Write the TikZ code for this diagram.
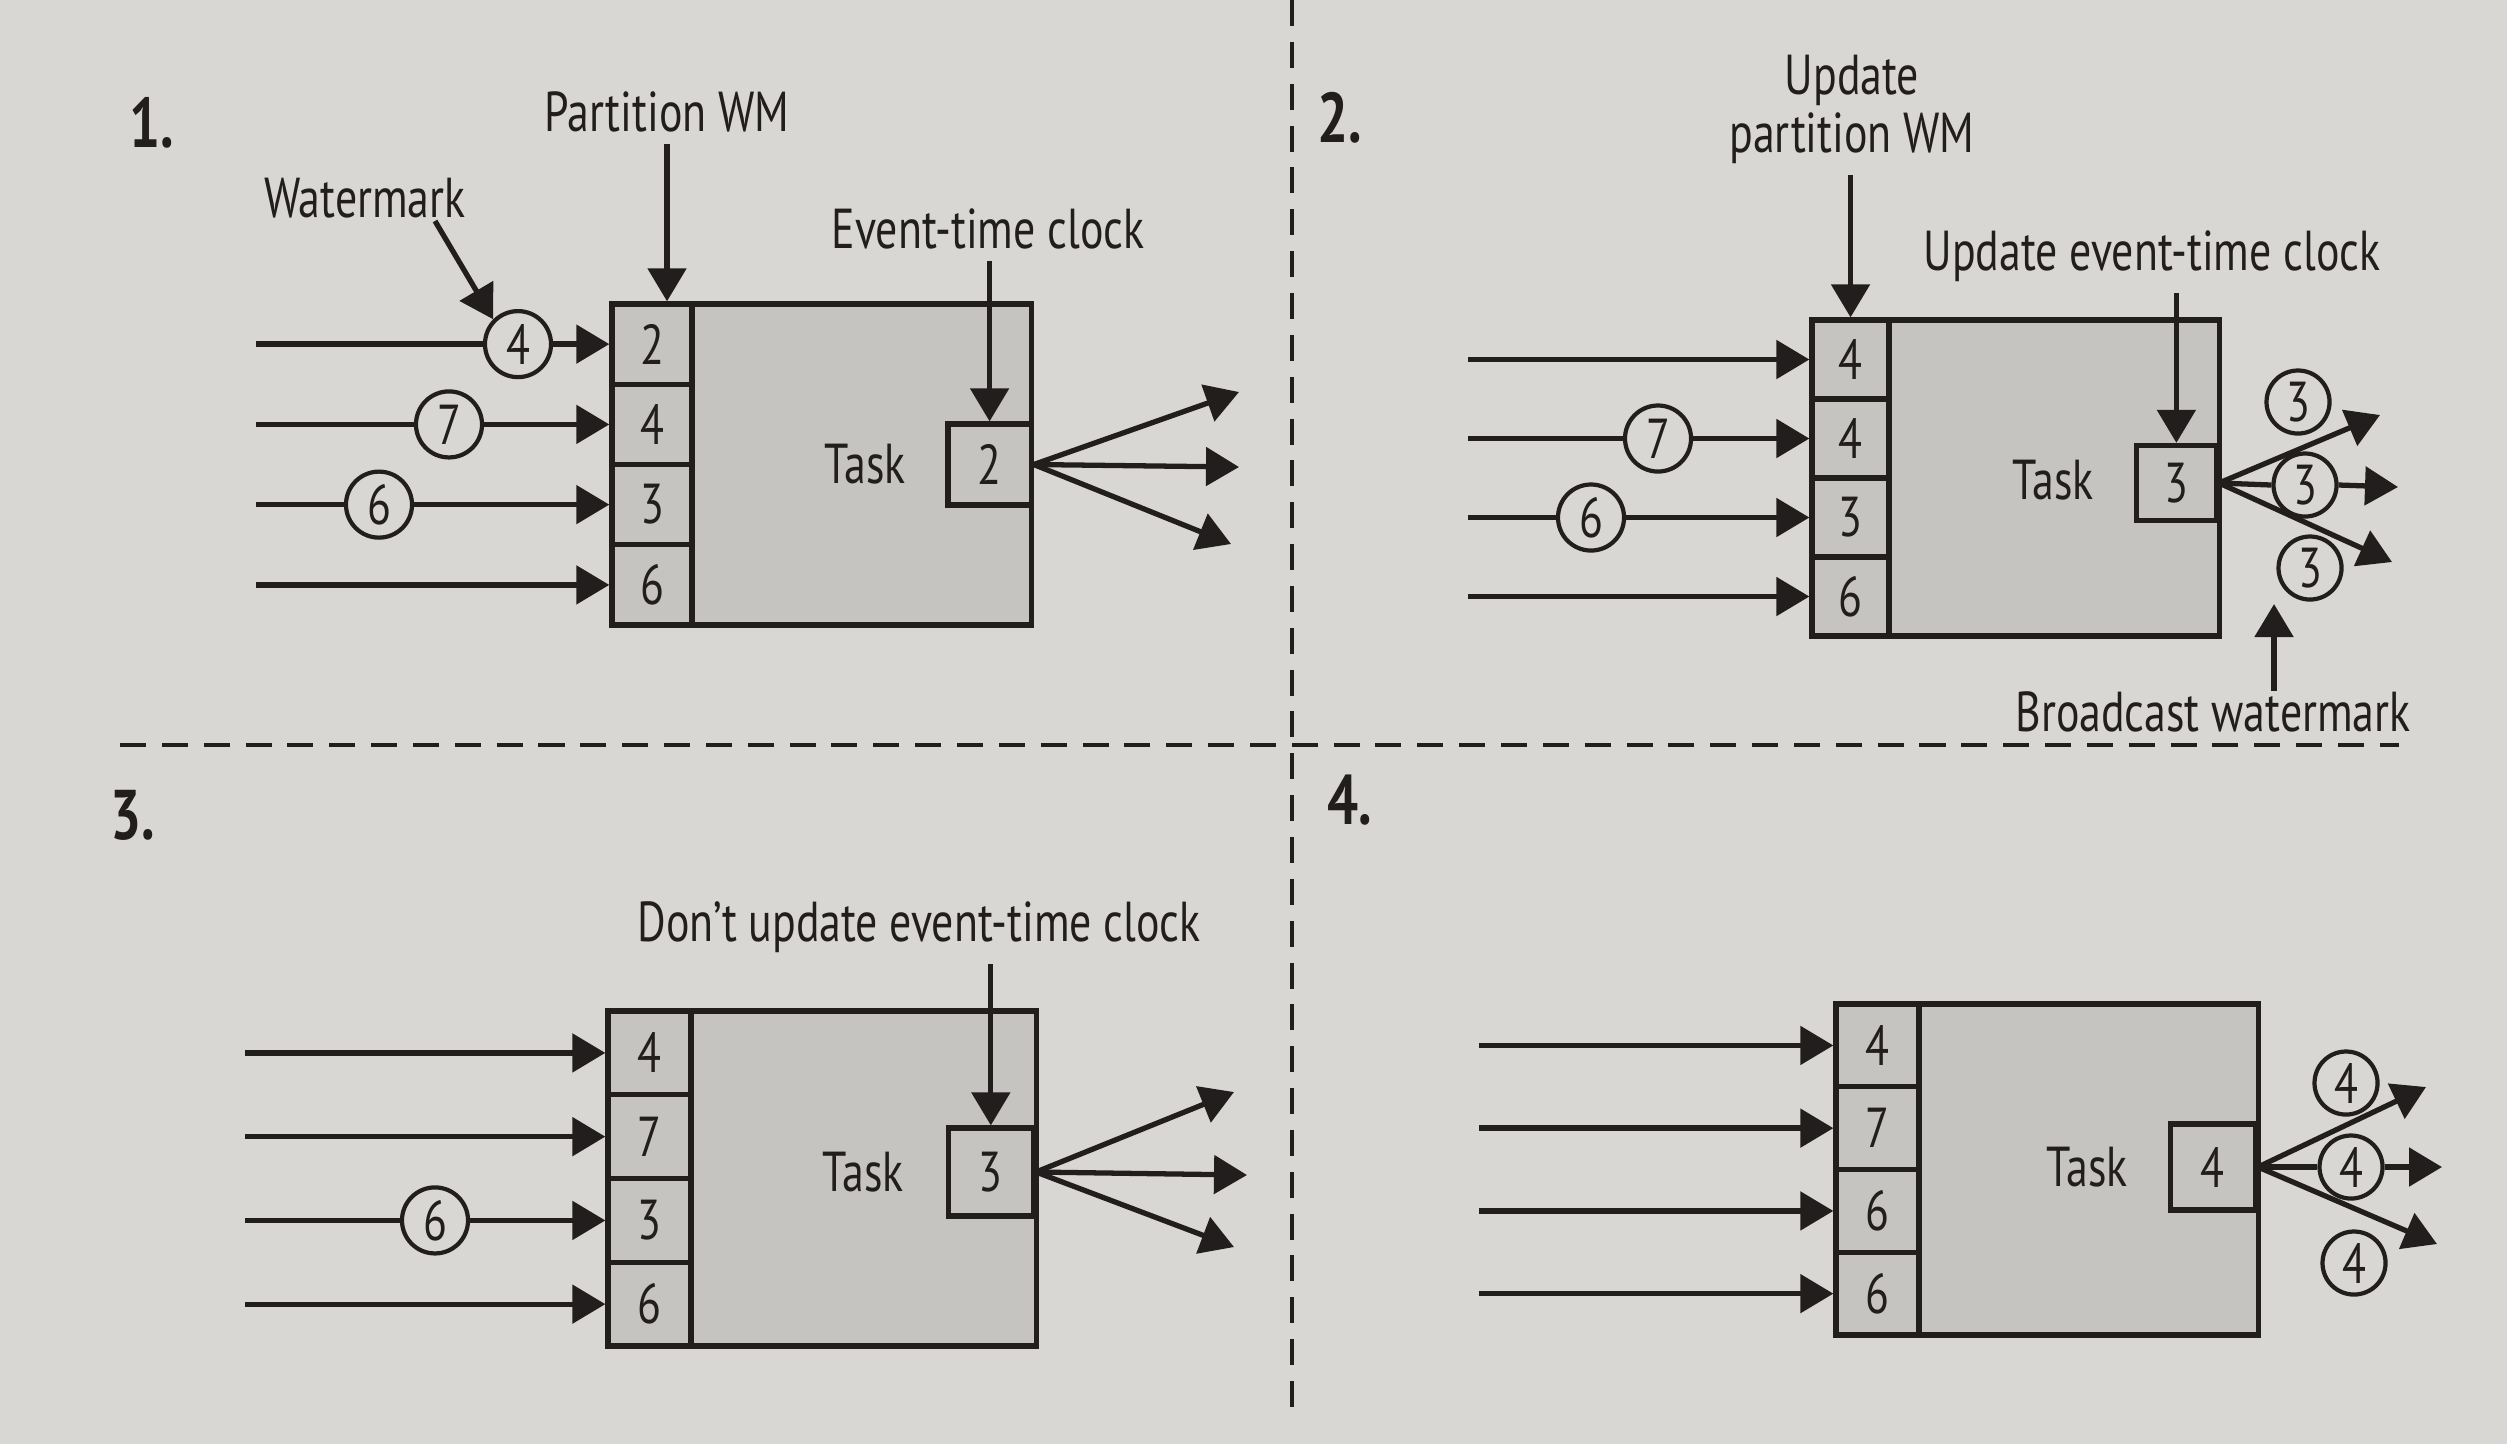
\documentclass[tikz,border=0pt]{standalone}
\usepackage{fontspec}
\setmainfont{PT Sans}[FakeStretch=0.78]
\usetikzlibrary{arrows.meta}
\definecolor{bg}{HTML}{D9D7D3}
\definecolor{boxfill}{HTML}{C6C4C0}
\definecolor{ink}{HTML}{221E1E}
\tikzset{
 lbl/.style={font=\fontsize{16}{16.5}\selectfont, text=ink, inner sep=0pt, align=center},
 num/.style={font=\fontsize{20}{24}\selectfont\bfseries, text=ink, inner sep=0pt},
 taskbox/.style={draw=ink, fill=boxfill, line width=1.5pt, inner sep=0pt, rectangle},
 cellbox/.style={draw=ink, fill=boxfill, line width=1.5pt, inner sep=0pt, rectangle, font=\fontsize{16}{19}\selectfont, text=ink},
 wm/.style={circle, draw=ink, line width=1.2pt, minimum size=0.66cm, inner sep=0pt, font=\fontsize{16}{19}\selectfont, text=ink},
 arr/.style={draw=ink, line width=1.5pt, -{Triangle[length=0.33cm,width=0.38cm]}},
 ln/.style={draw=ink, line width=1.5pt},
 divider/.style={draw=ink, line width=1.4pt, dash pattern=on 7.4pt off 4.5pt},
}
\begin{document}
\begin{tikzpicture}[x=0.01cm,y=-0.01cm]
\fill[bg] (0,0) rectangle (2507,1444);
\useasboundingbox (0,0) rectangle (2507,1444);

% dividers
\coordinate (vtop) at (1292,0); \coordinate (vbot) at (1292,1415);
\coordinate (hl) at (120,745); \coordinate (hr) at (2399,745);
\draw[divider] (vtop) -- (vbot);
\draw[divider] (hl) -- (hr);

% ---------------- Panel 1 ----------------
\node[num] (n1) at (152,123) {1.};
\node[taskbox, minimum width=4.19cm, minimum height=3.21cm] (t1) at (821.5,464.5) {};
\node[cellbox, minimum width=0.8cm, minimum height=0.8025cm] (c11) at (652,344.1) {2};
\node[cellbox, minimum width=0.8cm, minimum height=0.8025cm] (c12) at (652,424.4) {4};
\node[cellbox, minimum width=0.8cm, minimum height=0.8025cm] (c13) at (652,504.6) {3};
\node[cellbox, minimum width=0.8cm, minimum height=0.8025cm] (c14) at (652,584.9) {6};
\node[cellbox, minimum width=0.83cm, minimum height=0.81cm, anchor=east] (k1) at (t1.east) {2};
\node[lbl] (task1) at (865,464) {Task};
\node[lbl] (pwm1) at (667,112) {Partition WM};
\node[lbl] (wml1) at (365,198) {Watermark};
\node[lbl] (etc1) at (988,229) {Event-time clock};
\draw[arr, shorten <=3pt] (pwm1.south) -- (pwm1.south |- c11.north);
\coordinate (wms1) at (435,221);
\node[wm] (w11) at (518,344.1) {4};
\node[wm] (w12) at (449,424.4) {7};
\node[wm] (w13) at (379,504.6) {6};
\draw[arr] (wms1) -- (w11.north west);
\draw[arr, shorten <=3pt] (etc1.south -| k1.north) -- (k1.north);
\coordinate (s11) at (256,344.1);
\coordinate (s12) at (256,424.4);
\coordinate (s13) at (256,504.6);
\coordinate (s14) at (256,584.9);
\draw[ln] (s11) -- (w11.west); \draw[arr] (w11.east) -- (c11.west);
\draw[ln] (s12) -- (w12.west); \draw[arr] (w12.east) -- (c12.west);
\draw[ln] (s13) -- (w13.west); \draw[arr] (w13.east) -- (c13.west);
\draw[arr] (s14) -- (c14.west);
\coordinate (q11) at (1239,392);
\coordinate (q12) at (1239,467);
\coordinate (q13) at (1231,544);
\draw[arr] (k1.east) -- (q11);
\draw[arr] (k1.east) -- (q12);
\draw[arr] (k1.east) -- (q13);

% ---------------- Panel 2 ----------------
\node[num] (n2) at (1340,118) {2.};
\node[taskbox, minimum width=4.07cm, minimum height=3.16cm] (t2) at (2015.5,478) {};
\node[cellbox, minimum width=0.77cm, minimum height=0.79cm] (c21) at (1850.5,359.5) {4};
\node[cellbox, minimum width=0.77cm, minimum height=0.79cm] (c22) at (1850.5,438.5) {4};
\node[cellbox, minimum width=0.77cm, minimum height=0.79cm] (c23) at (1850.5,517.5) {3};
\node[cellbox, minimum width=0.77cm, minimum height=0.79cm] (c24) at (1850.5,596.5) {6};
\node[cellbox, minimum width=0.8cm, minimum height=0.75cm, anchor=east] (k2) at (2219,483) {3};
\node[lbl] (task2) at (2053,480) {Task};
\node[lbl] (pwm2) at (1852,109) {Update\\partition WM};
\node[lbl] (etc2) at (2152,256) {Update event-time clock};
\draw[arr, shorten <=3pt] (pwm2.south -| c21.north) -- (c21.north);
\draw[arr, shorten <=3pt] (etc2.south -| k2.north) -- (k2.north);
\node[wm] (w22) at (1658,438.5) {7};
\node[wm] (w23) at (1591,517.5) {6};
\coordinate (s21) at (1468,359.5);
\coordinate (s22) at (1468,438.5);
\coordinate (s23) at (1468,517.5);
\coordinate (s24) at (1468,596.5);
\draw[arr] (s21) -- (c21.west);
\draw[ln] (s22) -- (w22.west); \draw[arr] (w22.east) -- (c22.west);
\draw[ln] (s23) -- (w23.west); \draw[arr] (w23.east) -- (c23.west);
\draw[arr] (s24) -- (c24.west);
\node[wm, minimum size=0.63cm] (b21) at (2298,402) {3};
\node[wm, minimum size=0.63cm] (b22) at (2305,485) {3};
\node[wm, minimum size=0.63cm] (b23) at (2310,568) {3};
\coordinate (q21) at (2380,415);
\coordinate (q22) at (2398,487);
\coordinate (q23) at (2392,562);
\draw[arr] (k2.east) -- (q21);
\draw[ln] (k2.east) -- (b22.west); \draw[arr] (b22.east) -- (q22);
\draw[arr] (k2.east) -- (q23);
\node[lbl] (bw) at (2213,712) {Broadcast watermark};
\coordinate (bws) at (2274,691);
\coordinate (bwe) at (2274,604);
\draw[arr] (bws) -- (bwe);

% ---------------- Panel 3 ----------------
\node[num] (n3) at (133,815) {3.};
\node[taskbox, minimum width=4.28cm, minimum height=3.35cm] (t3) at (822,1178.5) {};
\node[cellbox, minimum width=0.83cm, minimum height=0.8375cm] (c31) at (649.5,1052.9) {4};
\node[cellbox, minimum width=0.83cm, minimum height=0.8375cm] (c32) at (649.5,1136.6) {7};
\node[cellbox, minimum width=0.83cm, minimum height=0.8375cm] (c33) at (649.5,1220.4) {3};
\node[cellbox, minimum width=0.83cm, minimum height=0.8375cm] (c34) at (649.5,1304.1) {6};
\node[cellbox, minimum width=0.85cm, minimum height=0.88cm, anchor=east] (k3) at (1036,1172) {3};
\node[lbl] (task3) at (863,1172) {Task};
\node[lbl] (etc3) at (919,927) {Don't update event-time clock};
\draw[arr, shorten <=3pt] (etc3.south -| k3.north) -- (k3.north);
\node[wm] (w33) at (435,1220.4) {6};
\coordinate (s31) at (245,1052.9);
\coordinate (s32) at (245,1136.6);
\coordinate (s33) at (245,1220.4);
\coordinate (s34) at (245,1304.1);
\draw[arr] (s31) -- (c31.west);
\draw[arr] (s32) -- (c32.west);
\draw[ln] (s33) -- (w33.west); \draw[arr] (w33.east) -- (c33.west);
\draw[arr] (s34) -- (c34.west);
\coordinate (q31) at (1234,1092);
\coordinate (q32) at (1247,1175);
\coordinate (q33) at (1234,1247);
\draw[arr] (k3.east) -- (q31);
\draw[arr] (k3.east) -- (q32);
\draw[arr] (k3.east) -- (q33);

% ---------------- Panel 4 ----------------
\node[num] (n4) at (1350,800) {4.};
\node[taskbox, minimum width=4.22cm, minimum height=3.31cm] (t4) at (2047,1169.5) {};
\node[cellbox, minimum width=0.83cm, minimum height=0.8275cm] (c41) at (1877.5,1045.4) {4};
\node[cellbox, minimum width=0.83cm, minimum height=0.8275cm] (c42) at (1877.5,1128.1) {7};
\node[cellbox, minimum width=0.83cm, minimum height=0.8275cm] (c43) at (1877.5,1210.9) {6};
\node[cellbox, minimum width=0.83cm, minimum height=0.8275cm] (c44) at (1877.5,1293.6) {6};
\node[cellbox, minimum width=0.85cm, minimum height=0.86cm, anchor=east] (k4) at (2258,1167) {4};
\node[lbl] (task4) at (2087,1167) {Task};
\coordinate (s41) at (1479,1045.4);
\coordinate (s42) at (1479,1128.1);
\coordinate (s43) at (1479,1210.9);
\coordinate (s44) at (1479,1293.6);
\draw[arr] (s41) -- (c41.west);
\draw[arr] (s42) -- (c42.west);
\draw[arr] (s43) -- (c43.west);
\draw[arr] (s44) -- (c44.west);
\node[wm, minimum size=0.63cm] (b41) at (2346,1083) {4};
\node[wm, minimum size=0.63cm] (b42) at (2351,1167) {4};
\node[wm, minimum size=0.63cm] (b43) at (2354,1263) {4};
\coordinate (q41) at (2426,1087);
\coordinate (q42) at (2442,1167);
\coordinate (q43) at (2437,1244);
\draw[arr] (k4.east) -- (q41);
\draw[ln] (k4.east) -- (b42.west); \draw[arr] (b42.east) -- (q42);
\draw[arr] (k4.east) -- (q43);
\end{tikzpicture}
\end{document}
